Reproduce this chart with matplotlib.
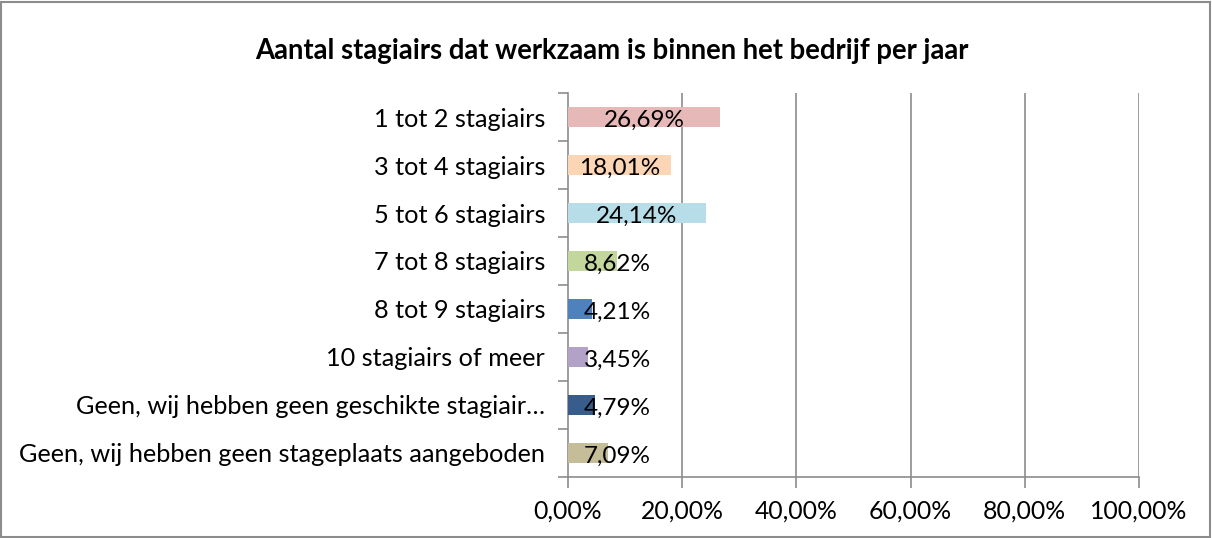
import matplotlib
matplotlib.use("Agg")
import matplotlib.pyplot as plt
from matplotlib.patches import Rectangle

categories = [
    "1 tot 2 stagiairs",
    "3 tot 4 stagiairs",
    "5 tot 6 stagiairs",
    "7 tot 8 stagiairs",
    "8 tot 9 stagiairs",
    "10 stagiairs of meer",
    "Geen, wij hebben geen geschikte stagiair\u2026",
    "Geen, wij hebben geen stageplaats aangeboden",
]
values = [26.69, 18.01, 24.14, 8.62, 4.21, 3.45, 4.79, 7.09]
colors = ["#E6B9B8", "#FCD5B5", "#B7DEE8", "#C3D69B", "#4F81BD", "#B3A2C7", "#385D8A", "#C4BD97"]
xticks = [0, 20, 40, 60, 80, 100]
xtick_labels = ["0,00%", "20,00%", "40,00%", "60,00%", "80,00%", "100,00%"]
title = "Aantal stagiairs dat werkzaam is binnen het bedrijf per jaar"

plt.rcParams['font.family'] = ['Lato', 'DejaVu Sans']

fig = plt.figure(figsize=(12.12, 5.38), dpi=100)
ax = fig.add_axes([568/1212, 1-477/538, (1139-568)/1212, (477-93)/538])

grid_c = "#8C8C8C"
fs = 17.5
ypos = list(range(len(categories)))
ax.barh(ypos, values, height=0.4, color=colors, zorder=3)
ax.set_ylim(len(categories)-0.5, -0.5)
ax.set_xlim(0, 100)
ax.set_xticks(xticks)
ax.set_xticklabels(xtick_labels, fontsize=17.8)
ax.set_yticks(ypos)
ax.set_yticklabels(categories, fontsize=18.2)
ax.tick_params(axis='y', length=0, pad=16.5)
ax.set_yticks([i - 0.5 for i in range(len(categories)+1)], minor=True)
ax.tick_params(axis='y', which='minor', length=7, color=grid_c, width=1.2)
ax.tick_params(axis='x', length=8, color=grid_c, width=1.2, pad=8, direction='out')
for x in xticks[1:]:
    ax.axvline(x, color=grid_c, lw=1.2, zorder=1)
for s in ['top', 'right']:
    ax.spines[s].set_visible(False)
for s in ['left', 'bottom']:
    ax.spines[s].set_color(grid_c)
    ax.spines[s].set_linewidth(1.2)

for y, v in zip(ypos, values):
    xc = max(v / 2, 8.7)
    ax.text(xc, y + 0.06, f"{v:.2f}%".replace('.', ','), ha='center', va='center',
            fontsize=fs, color='black', zorder=4)

fig.text(0.505, 0.905, title, ha='center', va='center', fontsize=19.8, fontweight='bold')
fig.patches.append(Rectangle((0.001, 0.002), 0.997, 0.995, transform=fig.transFigure,
                             fill=False, edgecolor=grid_c, lw=1.5))
fig.savefig("out.png", dpi=100)
